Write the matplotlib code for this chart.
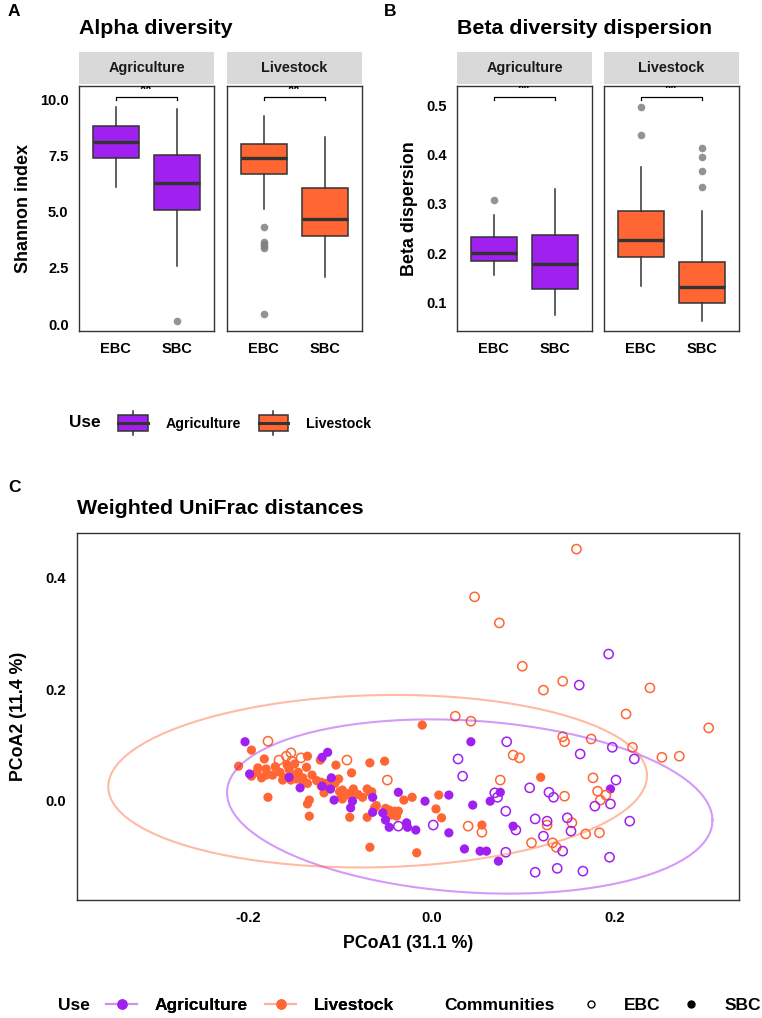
"""
Alpha / beta diversity boxplots and weighted UniFrac PCoA, three panels.
"""

import numpy as np
import matplotlib
matplotlib.use("Agg")
import matplotlib.pyplot as plt
from matplotlib.lines import Line2D
from matplotlib.patches import Rectangle, Patch
from matplotlib.legend_handler import HandlerBase

plt.rcParams["font.family"] = ["Liberation Sans", "DejaVu Sans"]
plt.rcParams["font.weight"] = "bold"
plt.rcParams["axes.unicode_minus"] = False

W, H = 762, 1018
PURPLE = "#A020F0"
ORANGE = "#FF6633"
LIGHT = {"Agriculture": "#D08FF8", "Livestock": "#FFB299"}
EDGE = "#333333"
STRIP = "#D9D9D9"

USES = ["Agriculture", "Livestock"]
COMMUNITIES = ["EBC", "SBC"]

# Box stats per facet, [EBC, SBC], each (whislo, q1, median, q3, whishi)
ALPHA_AGRI = [[6.08, 7.40, 8.11, 8.82, 9.64], [2.56, 5.09, 6.29, 7.53, 9.54]]
ALPHA_AGRI_OUT = [[], [0.12]]
ALPHA_LIVE = [[5.10, 6.68, 7.37, 8.02, 9.26], [2.11, 3.91, 4.66, 6.03, 8.33]]
ALPHA_LIVE_OUT = [[4.33, 3.65, 3.56, 3.46, 3.39, 0.46], []]
ALPHA_SIG_Y = 10.10

BETA_AGRI = [[0.156, 0.184, 0.201, 0.233, 0.278], [0.074, 0.128, 0.178, 0.236, 0.331]]
BETA_AGRI_OUT = [[0.308], []]
BETA_LIVE = [[0.133, 0.192, 0.227, 0.285, 0.374], [0.063, 0.099, 0.132, 0.182, 0.286]]
BETA_LIVE_OUT = [[0.497, 0.440], [0.414, 0.394, 0.367, 0.334]]
BETA_SIG_Y = 0.5175

# PCoA coordinates (weighted UniFrac); dense cluster includes overlapping points
AGRI_EBC_X = [0.193, 0.161, 0.082, 0.197, 0.162, 0.221, 0.029, 0.034, 0.201, 0.178,
              0.195, 0.107, 0.128, 0.133, 0.069, 0.072, 0.081, 0.113, 0.126, 0.148,
              0.216, 0.002, -0.036, 0.092, 0.152, 0.122, 0.143, 0.081, 0.194, 0.113,
              0.137, 0.165]
AGRI_EBC_Y = [0.263, 0.207, 0.105, 0.095, 0.083, 0.074, 0.074, 0.043, 0.036, -0.011,
              -0.007, 0.022, 0.014, 0.005, 0.013, 0.005, -0.020, -0.034, -0.038, -0.032,
              -0.038, -0.045, -0.047, -0.054, -0.056, -0.065, -0.092, -0.094, -0.103, -0.130,
              -0.123, -0.128]
AGRI_SBC_X = [-0.203, -0.198, -0.155, -0.143, -0.119, -0.113, -0.119, -0.109, -0.106, -0.086,
              -0.088, -0.064, -0.036, -0.007, 0.019, -0.064, -0.053, -0.050, -0.046, -0.027,
              -0.026, -0.017, 0.045, 0.043, 0.064, 0.195, 0.075, 0.089, 0.019, 0.036,
              0.053, 0.060, 0.073, -0.110]
AGRI_SBC_Y = [0.105, 0.047, 0.041, 0.022, 0.077, 0.086, 0.025, 0.040, 0.000, -0.002,
              -0.014, 0.005, 0.014, -0.002, 0.009, -0.022, -0.023, -0.036, -0.049, -0.041,
              -0.049, -0.054, -0.009, 0.105, -0.002, 0.020, 0.014, -0.047, -0.059, -0.088,
              -0.092, -0.092, -0.110, 0.020]
LIVE_EBC_X = [0.158, 0.047, 0.074, 0.099, 0.143, 0.238, 0.122, 0.212, 0.302, 0.143,
              0.145, 0.174, 0.219, 0.089, 0.096, 0.251, 0.270, 0.075, 0.176, 0.181,
              0.190, 0.184, 0.145, 0.126, 0.153, 0.026, 0.043, -0.092, -0.048, 0.040,
              -0.178, -0.166, -0.158, -0.153, -0.152, -0.142, 0.055, 0.109, 0.132, 0.136,
              0.168, 0.183]
LIVE_EBC_Y = [0.452, 0.366, 0.319, 0.241, 0.214, 0.202, 0.198, 0.155, 0.130, 0.114,
              0.105, 0.110, 0.095, 0.081, 0.076, 0.077, 0.079, 0.036, 0.040, 0.016,
              0.009, 0.000, 0.007, -0.045, -0.041, 0.151, 0.142, 0.072, 0.036, -0.047,
              0.106, 0.072, 0.079, 0.085, 0.070, 0.076, -0.058, -0.077, -0.077, -0.085,
              -0.061, -0.059]
LIVE_SBC_X = [-0.196, -0.182, -0.135, -0.210, -0.189, -0.180, -0.173, -0.196, -0.185, -0.162,
              -0.153, -0.147, -0.141, -0.157, -0.136, -0.149, -0.178, -0.135, -0.133, -0.133,
              -0.121, -0.104, -0.087, -0.067, -0.051, -0.120, -0.109, -0.101, -0.117, -0.097,
              -0.093, -0.087, -0.098, -0.097, -0.089, -0.070, -0.067, -0.021, 0.008, -0.062,
              -0.070, -0.046, -0.040, -0.036, -0.044, -0.038, 0.005, 0.011, -0.010, 0.055,
              0.119, -0.067, -0.016,
              -0.190, -0.180, -0.170, -0.165, -0.160, -0.155, -0.150, -0.145, -0.140, -0.130,
              -0.125, -0.115, -0.110, -0.100, -0.090, -0.080, -0.075, -0.060, -0.050, -0.040,
              -0.135, -0.120, -0.105, -0.085, -0.065, -0.030]
LIVE_SBC_Y = [0.090, 0.074, 0.079, 0.061, 0.058, 0.056, 0.045, 0.043, 0.040, 0.036,
              0.036, 0.038, 0.036, 0.063, 0.059, 0.065, 0.005, -0.007, 0.000, -0.029,
              0.072, 0.063, 0.049, 0.067, 0.070, 0.032, 0.031, 0.038, 0.013, 0.018,
              0.009, 0.009, 0.005, 0.002, -0.031, 0.020, 0.014, 0.005, 0.009, -0.014,
              -0.031, -0.018, -0.023, -0.020, -0.027, -0.029, -0.016, -0.032, 0.135, -0.045,
              0.041, -0.085, -0.095,
              0.050, 0.045, 0.060, 0.050, 0.040, 0.055, 0.045, 0.050, 0.040, 0.045,
              0.035, 0.030, 0.020, 0.015, 0.012, 0.010, 0.005, -0.010, -0.015, -0.020,
              0.030, 0.025, 0.030, 0.020, 0.015, 0.000]

PCOA_XLIM = (-0.386, 0.335)
PCOA_YLIM = (-0.180, 0.481)


def px_axes(fig, x0, y0, x1, y1):
    return fig.add_axes([x0 / W, 1 - y1 / H, (x1 - x0) / W, (y1 - y0) / H])


def strip(fig, x0, x1, label):
    ax = px_axes(fig, x0, 52, x1, 84)
    ax.set_facecolor(STRIP)
    ax.set_xticks([])
    ax.set_yticks([])
    for s in ax.spines.values():
        s.set_visible(False)
    ax.text(0.5, 0.5, label, ha="center", va="center", fontsize=10.4,
            fontweight="bold", color="#1A1A1A", transform=ax.transAxes)


def box_facet(ax, stats, outs, color, ylim, yticks, fmt, sig_y, show_y):
    bxp_stats = []
    for s, o in zip(stats, outs):
        bxp_stats.append(dict(whislo=s[0], q1=s[1], med=s[2], q3=s[3], whishi=s[4],
                              fliers=o))
    ax.bxp(bxp_stats, positions=[1, 2], widths=0.75, patch_artist=True, showcaps=False,
           boxprops=dict(facecolor=color, edgecolor=EDGE, linewidth=1.1),
           medianprops=dict(color=EDGE, linewidth=2.4, solid_capstyle="butt"),
           whiskerprops=dict(color=EDGE, linewidth=1.1),
           flierprops=dict(marker="o", markerfacecolor="#808080", markeredgecolor="none",
                           markersize=5.5, alpha=0.85))
    # significance bracket
    span = ylim[1] - ylim[0]
    tick = 0.012 * span
    ax.plot([1, 1, 2, 2], [sig_y - tick, sig_y, sig_y, sig_y - tick], color="black", lw=0.9)
    ax.text(1.5, sig_y + 0.028 * span, "**", ha="center", va="center", fontsize=11.5,
            clip_on=True)
    ax.set_xlim(0.4, 2.6)
    ax.set_ylim(*ylim)
    ax.set_xticks([1, 2], COMMUNITIES)
    ax.set_yticks(yticks, [fmt.format(v) for v in yticks])
    ax.tick_params(length=0, labelsize=10.5, colors="black")
    ax.tick_params(axis="y", pad=7.5)
    ax.tick_params(axis="x", pad=8)
    if not show_y:
        ax.set_yticklabels([])
    for s in ax.spines.values():
        s.set_color(EDGE)
        s.set_linewidth(1.0)


class BoxKey(HandlerBase):
    def create_artists(self, legend, orig_handle, xdescent, ydescent, width, height,
                       fontsize, trans):
        x0, y0 = -xdescent, -ydescent
        cx = x0 + width / 2
        b0, b1 = y0 + 0.1 * height, y0 + 0.9 * height
        whisk = Line2D([cx, cx], [y0 - 0.12 * height, y0 + 1.12 * height], color=EDGE,
                       lw=1.1, transform=trans)
        box = Rectangle((x0, b0), width, b1 - b0, facecolor=orig_handle.get_facecolor(),
                        edgecolor=EDGE, lw=1.1, transform=trans)
        med = Line2D([x0, x0 + width], [(b0 + b1) / 2] * 2, color=EDGE, lw=2.2,
                     transform=trans)
        return [whisk, box, med]


def trob_ellipse(x, y, level=0.95, segments=101):
    # stat_ellipse(type = "t"): MASS::cov.trob shape, F-based radius
    X = np.column_stack([x, y])
    n, p = X.shape
    nu = 5
    loc = X.mean(axis=0)
    w = np.ones(n)
    for _ in range(25):
        w0 = w
        Xc = X - loc
        _, d, vt = np.linalg.svd(Xc / np.sqrt(n), full_matrices=False)
        wX = Xc @ vt.T / d
        q = (wX ** 2).sum(axis=1)
        w = (nu + p) / (nu + q)
        loc = (w[:, None] * X).sum(axis=0) / w.sum()
        if np.all(np.abs(w - w0) < 0.01):
            break
    sw = np.sqrt(w)[:, None] * Xc
    cov = sw.T @ sw / n
    dfd = n - 1
    fq = dfd / 2 * ((1 - level) ** (-2 / dfd) - 1)
    radius = np.sqrt(2 * fq)
    r = np.linalg.cholesky(cov).T
    t = np.linspace(0, 2 * np.pi, segments + 1)
    circle = np.column_stack([np.cos(t), np.sin(t)])
    pts = loc + radius * circle @ r
    return pts[:, 0], pts[:, 1]


def main():
    fig = plt.figure(figsize=(W / 100, H / 100), dpi=100)

    # ---- A: alpha diversity
    fig.text(8 / W, 1 - 12 / H, "A", fontsize=12.5, fontweight="bold", va="center")
    fig.text(79 / W, 1 - 28 / H, "Alpha diversity", fontsize=15.4, fontweight="bold",
             va="center")
    a1 = px_axes(fig, 79, 86, 214, 331)
    a2 = px_axes(fig, 227, 86, 362, 331)
    strip(fig, 79, 214, "Agriculture")
    strip(fig, 227, 362, "Livestock")
    a_ticks = [0.0, 2.5, 5.0, 7.5, 10.0]
    box_facet(a1, ALPHA_AGRI, ALPHA_AGRI_OUT, PURPLE, (-0.31, 10.58), a_ticks, "{:.1f}",
              ALPHA_SIG_Y, True)
    box_facet(a2, ALPHA_LIVE, ALPHA_LIVE_OUT, ORANGE, (-0.31, 10.58), a_ticks, "{:.1f}",
              ALPHA_SIG_Y, False)
    a1.set_ylabel("Shannon index", fontsize=12.9, fontweight="bold", va="center")
    a1.yaxis.set_label_coords((24 - 79) / 135, 0.5)

    # ---- B: beta dispersion
    fig.text(384 / W, 1 - 12 / H, "B", fontsize=12.5, fontweight="bold", va="center")
    fig.text(457 / W, 1 - 28 / H, "Beta diversity dispersion", fontsize=15.4,
             fontweight="bold", va="center")
    b1 = px_axes(fig, 457, 86, 592, 331)
    b2 = px_axes(fig, 604, 86, 739, 331)
    strip(fig, 457, 592, "Agriculture")
    strip(fig, 604, 739, "Livestock")
    b_ticks = [0.1, 0.2, 0.3, 0.4, 0.5]
    box_facet(b1, BETA_AGRI, BETA_AGRI_OUT, PURPLE, (0.042, 0.539), b_ticks, "{:.1f}",
              BETA_SIG_Y, True)
    box_facet(b2, BETA_LIVE, BETA_LIVE_OUT, ORANGE, (0.042, 0.539), b_ticks, "{:.1f}",
              BETA_SIG_Y, False)
    b1.set_ylabel("Beta dispersion", fontsize=12.9, fontweight="bold", va="center")
    b1.yaxis.set_label_coords((410 - 457) / 135, 0.5)

    # legend for A/B
    fig.text(69 / W, 1 - 423 / H, "Use", fontsize=12.4, fontweight="bold", va="center")
    fig.legend([Patch(facecolor=PURPLE), Patch(facecolor=ORANGE)], USES,
               handler_map={Patch: BoxKey()}, loc="center left",
               bbox_to_anchor=(118 / W, 1 - 423 / H), ncol=2, frameon=False,
               fontsize=10.2, handlelength=2.1, handleheight=1.76, handletextpad=1.25,
               columnspacing=1.25, borderpad=0, borderaxespad=0)

    # ---- C: PCoA
    fig.text(8 / W, 1 - 487 / H, "C", fontsize=12.5, fontweight="bold", va="center")
    fig.text(77 / W, 1 - 509 / H, "Weighted UniFrac distances", fontsize=15.4,
             fontweight="bold", va="center")
    c = px_axes(fig, 77, 533, 739, 900)
    ms = 44
    c.scatter(LIVE_SBC_X, LIVE_SBC_Y, s=ms, color=ORANGE, edgecolors="none", zorder=2)
    c.scatter(AGRI_SBC_X, AGRI_SBC_Y, s=ms, color=PURPLE, edgecolors="none", zorder=2)
    c.scatter(LIVE_EBC_X, LIVE_EBC_Y, s=ms, facecolors="none", edgecolors=ORANGE,
              linewidths=1.1, zorder=3)
    c.scatter(AGRI_EBC_X, AGRI_EBC_Y, s=ms, facecolors="none", edgecolors=PURPLE,
              linewidths=1.1, zorder=3)
    for xs, ys, col in [(AGRI_EBC_X + AGRI_SBC_X, AGRI_EBC_Y + AGRI_SBC_Y, PURPLE),
                        (LIVE_EBC_X + LIVE_SBC_X, LIVE_EBC_Y + LIVE_SBC_Y, ORANGE)]:
        ex, ey = trob_ellipse(np.array(xs), np.array(ys))
        c.plot(ex, ey, color=col, alpha=0.45, lw=1.5, zorder=4)
    c.set_xlim(*PCOA_XLIM)
    c.set_ylim(*PCOA_YLIM)
    c.set_xticks([-0.2, 0.0, 0.2], ["-0.2", "0.0", "0.2"])
    c.set_yticks([0.0, 0.2, 0.4], ["0.0", "0.2", "0.4"])
    c.tick_params(length=0, labelsize=10.6, colors="black")
    c.tick_params(axis="y", pad=8)
    c.tick_params(axis="x", pad=8)
    for s in c.spines.values():
        s.set_color(EDGE)
        s.set_linewidth(1.0)
    c.set_xlabel("PCoA1 (31.1 %)", fontsize=12.8, fontweight="bold", va="center")
    c.xaxis.set_label_coords(0.5, (900 - 943) / 367)
    c.set_ylabel("PCoA2 (11.4 %)", fontsize=12.8, fontweight="bold", va="center")
    c.yaxis.set_label_coords((18 - 77) / 662, 0.5)

    # legends for C
    ly = 1 - 1005 / H
    fig.text(58 / W, ly, "Use", fontsize=12.5, fontweight="bold", va="center")
    use_handles = [Line2D([0], [0], color=LIGHT[u], lw=1.5, marker="o", markersize=6.5,
                          markerfacecolor=col, markeredgecolor=col)
                   for u, col in zip(USES, [PURPLE, ORANGE])]
    leg1 = fig.legend(use_handles, USES, loc="center left", bbox_to_anchor=(106 / W, ly),
                      ncol=2, frameon=False, fontsize=12.5, handlelength=1.8,
                      handletextpad=1.0, columnspacing=1.0, borderpad=0, borderaxespad=0)
    fig.add_artist(leg1)
    fig.text(444 / W, ly, "Communities", fontsize=12.5, fontweight="bold", va="center")
    com_handles = [Line2D([0], [0], ls="none", marker="o", markersize=5,
                          markerfacecolor="none", markeredgecolor="black", mew=1.0),
                   Line2D([0], [0], ls="none", marker="o", markersize=5,
                          markerfacecolor="black", markeredgecolor="black")]
    fig.legend(com_handles, COMMUNITIES, loc="center left", bbox_to_anchor=(575 / W, ly),
               ncol=2, frameon=False, fontsize=12.5, handlelength=1.8, handletextpad=1.0,
               columnspacing=0.9, borderpad=0, borderaxespad=0)

    fig.savefig("out.png", dpi=100)


if __name__ == "__main__":
    main()
